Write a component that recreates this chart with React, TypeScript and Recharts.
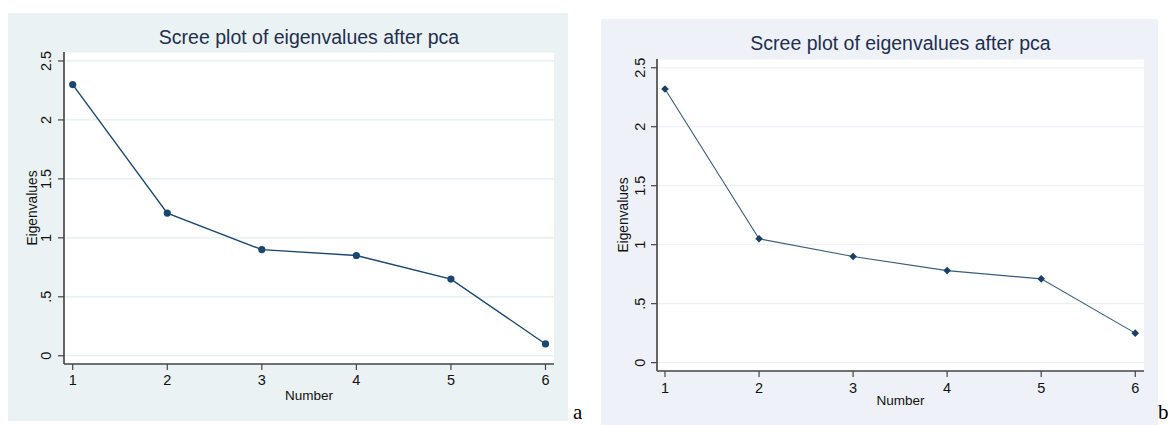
import React from "react";
import { LineChart, Line, XAxis, YAxis, CartesianGrid, Label } from "recharts";

const categories = [1, 2, 3, 4, 5, 6];
const eigenA = [2.3, 1.21, 0.9, 0.85, 0.65, 0.1];
const eigenB = [2.32, 1.05, 0.9, 0.78, 0.71, 0.25];
const yTicks = [0, 0.5, 1, 1.5, 2, 2.5];
const yTickLabels = ["0", ".5", "1", "1.5", "2", "2.5"];
const xTicks = [1, 2, 3, 4, 5, 6];
const chartTitle = "Scree plot of eigenvalues after pca";
const xLabel = "Number";
const yLabel = "Eigenvalues";

const dataA = categories.map((n, i) => ({ number: n, eig: eigenA[i] }));
const dataB = categories.map((n, i) => ({ number: n, eig: eigenB[i] }));

const FONT = "'Liberation Sans', Arial, sans-serif";

const fmtY = (v: number) => {
  const i = yTicks.indexOf(v);
  return i >= 0 ? yTickLabels[i] : String(v);
};

const YTick = (props: any) => {
  const { x, y, payload } = props;
  return (
    <text
      x={x}
      y={y}
      transform={`rotate(-90 ${x} ${y})`}
      textAnchor="middle"
      dominantBaseline="central"
      fontSize={14.5}
      fontFamily={FONT}
      fill="#111"
    >
      {fmtY(payload.value)}
    </text>
  );
};

const XTick = (props: any) => {
  const { x, y, payload } = props;
  return (
    <text
      x={x}
      y={y}
      textAnchor="middle"
      dominantBaseline="central"
      fontSize={14.5}
      fontFamily={FONT}
      fill="#111"
    >
      {payload.value}
    </text>
  );
};

const CircleDot = (props: any) => {
  const { cx, cy, fill } = props;
  if (cx == null || cy == null) return null;
  return <circle cx={cx} cy={cy} r={3.6} fill={fill} />;
};

const DiamondDot = (props: any) => {
  const { cx, cy, fill } = props;
  if (cx == null || cy == null) return null;
  const s = 3.8;
  return (
    <polygon
      points={`${cx},${cy - s} ${cx + s},${cy} ${cx},${cy + s} ${cx - s},${cy}`}
      fill={fill}
    />
  );
};

type PanelProps = {
  data: { number: number; eig: number }[];
  left: number;
  top: number;
  width: number;
  height: number;
  bg: string;
  grid: string;
  marginTop: number;
  marginRight: number;
  yAxisWidth: number;
  xAxisHeight: number;
  xDomain: [number, number];
  yDomain: [number, number];
  lineColor: string;
  lineWidth: number;
  dotColor: string;
  dot: "circle" | "diamond";
  yTickMargin: number;
  xTickMargin: number;
  yLabelX: number;
  xLabelDy: number;
  titleBaseline: number;
};

const Panel = (p: PanelProps) => {
  const plotLeft = p.yAxisWidth;
  const plotRight = p.width - p.marginRight;
  const titleX = (plotLeft + plotRight) / 2;
  return (
    <div
      style={{
        position: "absolute",
        left: p.left,
        top: p.top,
        width: p.width,
        height: p.height,
        background: p.bg,
      }}
    >
      <svg
        width={p.width}
        height={p.height}
        style={{ position: "absolute", left: 0, top: 0 }}
      >
        <text
          x={titleX}
          y={p.titleBaseline}
          textAnchor="middle"
          fontSize={19.5}
          fontFamily={FONT}
          fill="#1f2f4f"
        >
          {chartTitle}
        </text>
      </svg>
      <div style={{ position: "absolute", left: 0, top: 0 }}>
        <LineChart
          width={p.width}
          height={p.height}
          data={p.data}
          margin={{ top: p.marginTop, right: p.marginRight, left: 0, bottom: 0 }}
        >
          <CartesianGrid
            horizontal={true}
            vertical={false}
            stroke={p.grid}
            strokeWidth={1.2}
            fill="#ffffff"
          />
          <XAxis
            dataKey="number"
            type="number"
            domain={p.xDomain}
            ticks={xTicks}
            allowDataOverflow
            height={p.xAxisHeight}
            axisLine={{ stroke: "#444", strokeWidth: 1.6 }}
            tickLine={{ stroke: "#444", strokeWidth: 1.2 }}
            tickSize={6}
            tickMargin={p.xTickMargin}
            tick={<XTick />}
            interval={0}
          >
            <Label
              content={(lp: any) => {
                const vb = lp.viewBox || {};
                return (
                  <text
                    x={vb.x + vb.width / 2}
                    y={vb.y + p.xLabelDy}
                    textAnchor="middle"
                    dominantBaseline="central"
                    fontSize={13.5}
                    fontFamily={FONT}
                    fill="#111"
                  >
                    {xLabel}
                  </text>
                );
              }}
            />
          </XAxis>
          <YAxis
            type="number"
            domain={p.yDomain}
            ticks={yTicks}
            allowDataOverflow
            width={p.yAxisWidth}
            axisLine={{ stroke: "#555", strokeWidth: 1.8 }}
            tickLine={{ stroke: "#444", strokeWidth: 1.2 }}
            tickSize={6}
            tickMargin={p.yTickMargin}
            tick={<YTick />}
            interval={0}
          >
            <Label
              content={(lp: any) => {
                const vb = lp.viewBox || {};
                const cx = p.yLabelX;
                const cy = vb.y + vb.height / 2;
                return (
                  <text
                    x={cx}
                    y={cy}
                    transform={`rotate(-90 ${cx} ${cy})`}
                    textAnchor="middle"
                    dominantBaseline="central"
                    fontSize={13.8}
                    fontFamily={FONT}
                    fill="#111"
                  >
                    {yLabel}
                  </text>
                );
              }}
            />
          </YAxis>
          <Line
            type="linear"
            dataKey="eig"
            stroke={p.lineColor}
            strokeWidth={p.lineWidth}
            dot={p.dot === "circle" ? <CircleDot fill={p.dotColor} /> : <DiamondDot fill={p.dotColor} />}
            activeDot={false}
            isAnimationActive={false}
          />
        </LineChart>
      </div>
    </div>
  );
}

export default function App() {
  return (
    <div
      style={{
        position: "absolute",
        left: 0,
        top: 0,
        width: 1170,
        height: 425,
        background: "#ffffff",
        overflow: "hidden",
      }}
    >
      <Panel
        data={dataA}
        left={8}
        top={13}
        width={560}
        height={408}
        bg="#eaf2f3"
        grid="#e3edef"
        marginTop={39}
        marginRight={14}
        yAxisWidth={56}
        xAxisHeight={57}
        xDomain={[0.908, 6.09]}
        yDomain={[-0.07, 2.576]}
        lineColor="#1a476f"
        lineWidth={1.4}
        dotColor="#1a476f"
        dot="circle"
        yTickMargin={12}
        xTickMargin={10}
        yLabelX={24}
        xLabelDy={31.5}
        titleBaseline={31.3}
      />
      <Panel
        data={dataB}
        left={601}
        top={19}
        width={557}
        height={406}
        bg="#eef2f8"
        grid="#edf0f5"
        marginTop={40}
        marginRight={14}
        yAxisWidth={56}
        xAxisHeight={54}
        xDomain={[0.915, 6.093]}
        yDomain={[-0.071, 2.574]}
        lineColor="#3a5b7d"
        lineWidth={1.1}
        dotColor="#1a3f66"
        dot="diamond"
        yTickMargin={11}
        xTickMargin={11}
        yLabelX={22}
        xLabelDy={29.3}
        titleBaseline={31.3}
      />
      <svg
        width={1170}
        height={425}
        style={{ position: "absolute", left: 0, top: 0, pointerEvents: "none" }}
      >
        <text x={573} y={419} fontSize={21} fontFamily="'Liberation Serif', 'Times New Roman', serif" fill="#000">
          a
        </text>
        <text x={1158} y={419} fontSize={21} fontFamily="'Liberation Serif', 'Times New Roman', serif" fill="#000">
          b
        </text>
      </svg>
    </div>
  );
}
